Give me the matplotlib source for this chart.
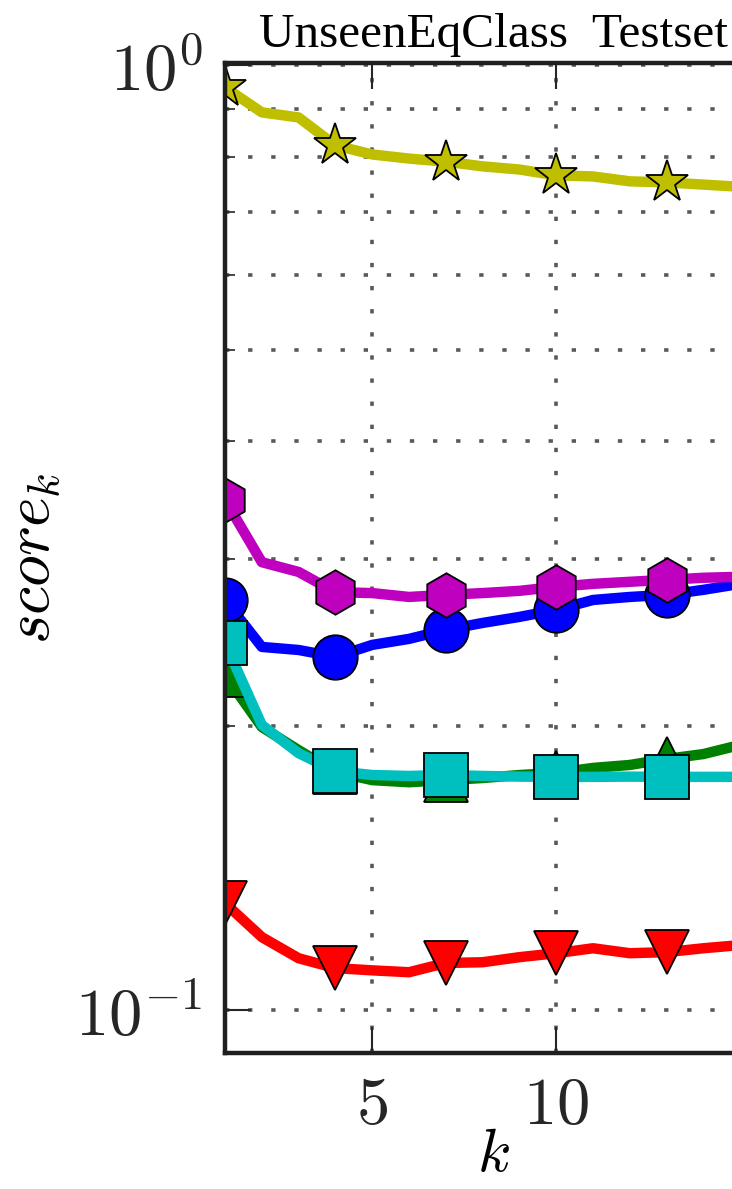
import matplotlib
matplotlib.use('Agg')
import matplotlib.pyplot as plt
from matplotlib.ticker import FuncFormatter, FixedLocator, LogLocator, NullFormatter
import numpy as np

plt.rcParams['mathtext.fontset'] = 'cm'

# k = 1..15, scores read per k
k = np.arange(1, 16)
score_star = [0.948, 0.892, 0.881, 0.823, 0.805, 0.797, 0.791, 0.782, 0.776,
              0.765, 0.763, 0.754, 0.752, 0.748, 0.744]
score_hex = [0.347, 0.298, 0.291, 0.277, 0.2764, 0.2738, 0.2752, 0.2764, 0.2779,
             0.2806, 0.2827, 0.2841, 0.2855, 0.2869, 0.2876]
score_circle = [0.2718, 0.2424, 0.2406, 0.2366, 0.2436, 0.2472, 0.2527, 0.2570, 0.2608,
                0.2653, 0.2718, 0.2738, 0.2752, 0.2786, 0.2827]
score_square = [0.2447, 0.2004, 0.1871, 0.1791, 0.1774, 0.1770, 0.1774, 0.1770, 0.1767,
                0.1766, 0.1766, 0.1767, 0.1766, 0.1766, 0.1766]
score_tri_up = [0.2264, 0.1994, 0.1885, 0.1787, 0.1752, 0.1743, 0.1752, 0.1761, 0.1774,
                0.1783, 0.1805, 0.1818, 0.1845, 0.1867, 0.1909]
score_tri_down = [0.1298, 0.1195, 0.1135, 0.1108, 0.1102, 0.1097, 0.1122, 0.1124, 0.1138,
                  0.1149, 0.1163, 0.1149, 0.1152, 0.1163, 0.1172]

fig = plt.figure(figsize=(7.32, 11.89), dpi=100)
ax = fig.add_axes([0.3074, 0.1144, 0.734, 0.8326])

style = dict(lw=7.5, ms=32, mec='k', mew=1.3, markevery=3)
ax.plot(k, score_tri_down, color='r', marker='v', **style)
ax.plot(k, score_tri_up, color='g', marker='^', **style)
ax.plot(k, score_circle, color='b', marker='o', **style)
ax.plot(k, score_square, color='c', marker='s', **style)
ax.plot(k, score_hex, color='m', marker='h', **style)
ax.plot(k, score_star, color='y', marker='*', **style)

ax.set_yscale('log')
ax.set_xlim(1, 15.6)
ax.set_ylim(0.0901, 1.006)

ax.xaxis.set_major_locator(FixedLocator([5, 10]))
ax.xaxis.set_major_formatter(FuncFormatter(lambda v, _: r'$\mathrm{%d}$' % v))
ax.yaxis.set_major_locator(LogLocator(base=10))
ax.yaxis.set_minor_locator(LogLocator(base=10, subs=np.arange(2, 10)))
ax.yaxis.set_major_formatter(FuncFormatter(lambda v, _: r'$\mathrm{10^{%d}}$' % round(np.log10(v))))
ax.yaxis.set_minor_formatter(NullFormatter())

ax.tick_params(which='both', direction='in', top=True, right=True, colors='0.15')
ax.tick_params(which='major', length=19, width=1.5, labelsize=48, pad=14)
ax.tick_params(which='minor', length=7, width=1.2)
ax.tick_params(axis='y', which='major', pad=16)

grid_style = dict(color='0.35', lw=2.6, linestyle=(0, (1.2, 5.2)))
ax.grid(True, which='major', axis='x', **grid_style)
ax.grid(True, which='both', axis='y', **grid_style)

for side in ax.spines.values():
    side.set_linewidth(3.2)
    side.set_color('0.12')

ax.set_xlabel(r'$k$', fontsize=44, labelpad=-10)
ax.set_ylabel(r'$score_k$', fontsize=46, labelpad=8)
ax.set_title('UnseenEqClass  Testset', fontsize=35.5, family='Liberation Serif', pad=11.5)

fig.savefig('out.png', dpi=100)
